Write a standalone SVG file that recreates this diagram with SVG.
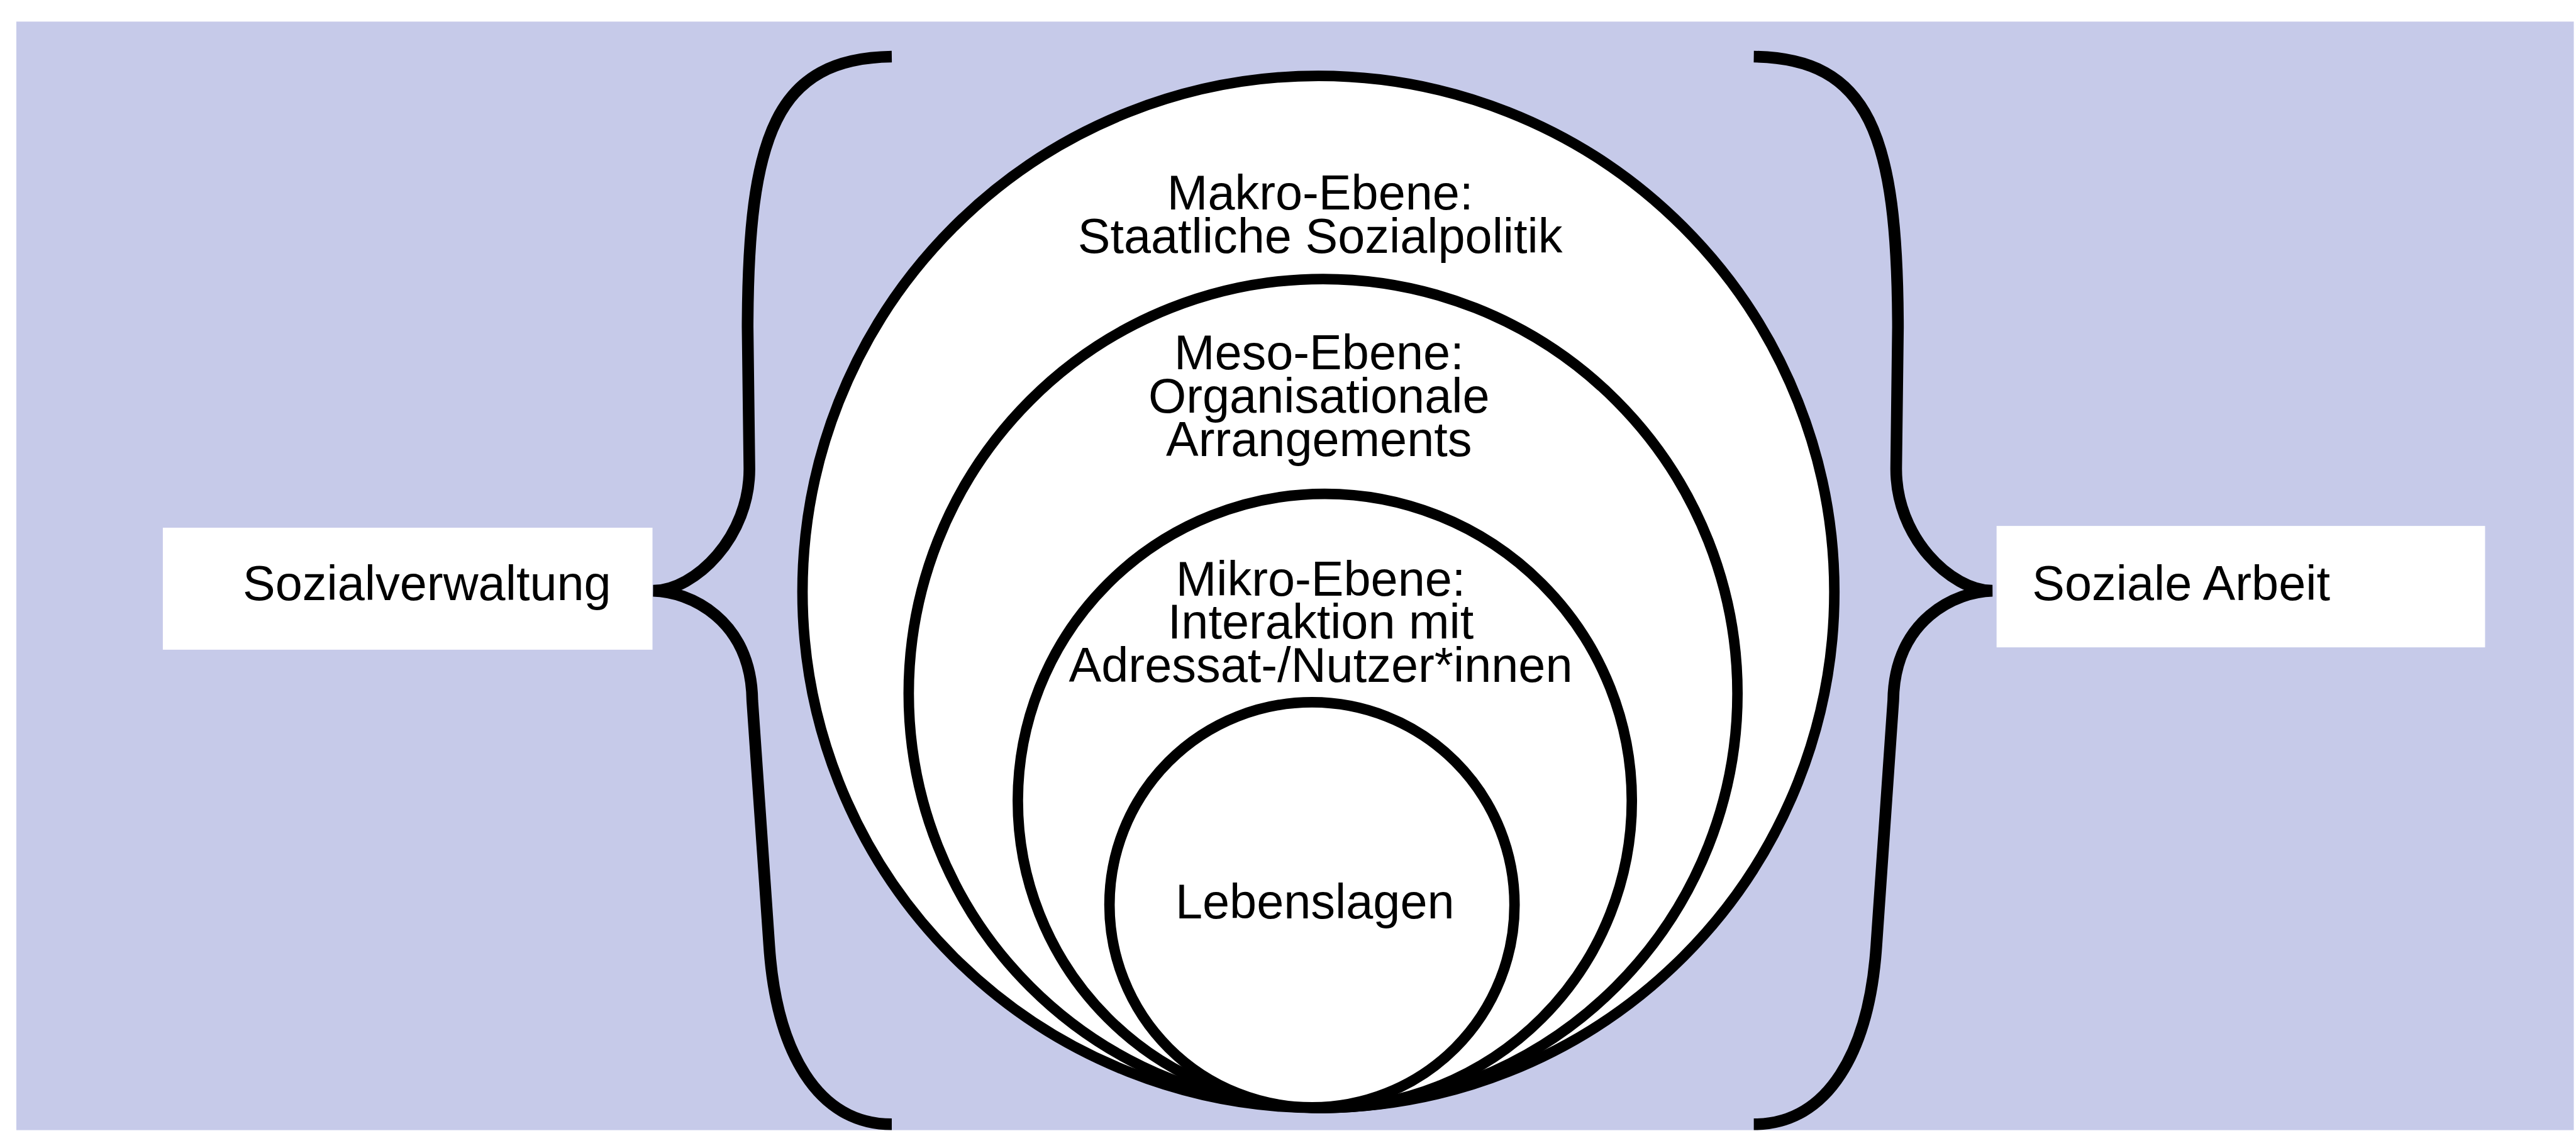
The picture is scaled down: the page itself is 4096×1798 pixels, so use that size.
<svg xmlns="http://www.w3.org/2000/svg" width="4096" height="1798" viewBox="0 0 4096 1798">
  <style>
    .bg { fill: #C6CAE9; }
    .box { fill: #FFFFFF; }
    .ring { fill: #FFFFFF; stroke: #000000; stroke-width: 18; }
    .brace { fill: none; stroke: #000000; stroke-width: 20; stroke-linecap: butt; stroke-linejoin: miter; }
    .lbl { font-family: "Liberation Sans", Arial, sans-serif; font-size: 83.5px; fill: #000000; }
    .mid { text-anchor: middle; }
  </style>
  <rect x="0" y="0" width="4096" height="1798" fill="#FFFFFF"/>
  <g transform="scale(0.928)">
    <rect class="bg" x="28" y="37" width="4382" height="1899"/>

    <g id="connectors">
      <path id="brace-left" class="brace" d="M 1528 97 C 1330 100, 1282 230, 1281 560 L 1284 800 C 1286 920, 1190 1012, 1119 1012 C 1180 1013, 1287 1060, 1289 1200 L 1318 1620 C 1330 1800, 1400 1926, 1528 1926"/>
      <path id="brace-right" class="brace" d="M 3005 97 C 3203 100, 3251 230, 3252 560 L 3249 800 C 3247 920, 3343 1012, 3414 1012 C 3353 1013, 3246 1060, 3244 1200 L 3215 1620 C 3203 1800, 3133 1926, 3005 1926"/>
    </g>

    <g id="node-sozialverwaltung">
      <rect class="box" x="279" y="904" width="839" height="209"/>
      <text class="lbl" x="416" y="1028">Sozialverwaltung</text>
    </g>

    <g id="node-soziale-arbeit">
      <rect class="box" x="3421" y="901" width="837" height="208"/>
      <text class="lbl" x="3482" y="1028">Soziale Arbeit</text>
    </g>

    <g id="node-makro">
      <circle class="ring" cx="2259" cy="1014" r="884"/>
      <text class="lbl mid" x="2262" y="359">Makro-Ebene:</text>
      <text class="lbl mid" x="2262" y="433">Staatliche Sozialpolitik</text>
    </g>

    <g id="node-meso">
      <circle class="ring" cx="2267" cy="1188" r="710"/>
      <text class="lbl mid" x="2260" y="633">Meso-Ebene:</text>
      <text class="lbl mid" x="2260" y="707">Organisationale</text>
      <text class="lbl mid" x="2260" y="781">Arrangements</text>
    </g>

    <g id="node-mikro">
      <circle class="ring" cx="2270" cy="1372" r="526"/>
      <text class="lbl mid" x="2263" y="1020">Mikro-Ebene:</text>
      <text class="lbl mid" x="2263" y="1094">Interaktion mit</text>
      <text class="lbl mid" x="2263" y="1168">Adressat-/Nutzer*innen</text>
    </g>

    <g id="node-lebenslagen">
      <circle class="ring" cx="2248" cy="1550" r="347"/>
      <text class="lbl mid" x="2253" y="1573">Lebenslagen</text>
    </g>
  </g>
</svg>
